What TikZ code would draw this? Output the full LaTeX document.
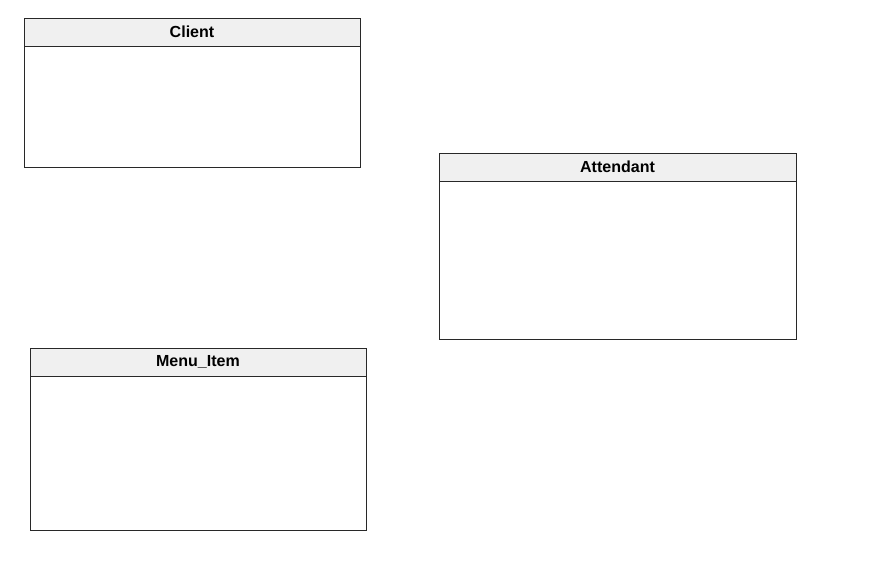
\documentclass[tikz,border=0pt]{standalone}
\usepackage{fontspec}
\setmainfont{Liberation Sans}
\usepackage{tikz}
\usetikzlibrary{positioning}
\definecolor{HeadGray}{RGB}{240,240,240}
\definecolor{LineGray}{RGB}{40,40,40}
\tikzset{
  classhead/.style={draw=LineGray,fill=HeadGray,line width=0.7pt,anchor=north west,
    minimum height=0.7cm,inner sep=0pt,outer sep=0pt,font=\fontsize{11.4}{13}\selectfont\bfseries},
  classbody/.style={draw=LineGray,fill=white,line width=0.7pt,inner sep=0pt,outer sep=0pt},
}
\begin{document}
\begin{tikzpicture}
\useasboundingbox (0,0) rectangle (21.725,-14.275);
\node[classhead,minimum width=8.4cm] (client) at (0.6,-0.45) {Client};
\node[classbody,minimum width=8.4cm,minimum height=3.025cm,below=0pt of client] (clientbody) {};
\node[classhead,minimum width=8.925cm] (attendant) at (10.975,-3.825) {Attendant};
\node[classbody,minimum width=8.925cm,minimum height=3.95cm,below=0pt of attendant] (attendantbody) {};
\node[classhead,minimum width=8.4cm] (menuitem) at (0.75,-8.7) {Menu\_Item};
\node[classbody,minimum width=8.4cm,minimum height=3.85cm,below=0pt of menuitem] (menuitembody) {};
\end{tikzpicture}
\end{document}
